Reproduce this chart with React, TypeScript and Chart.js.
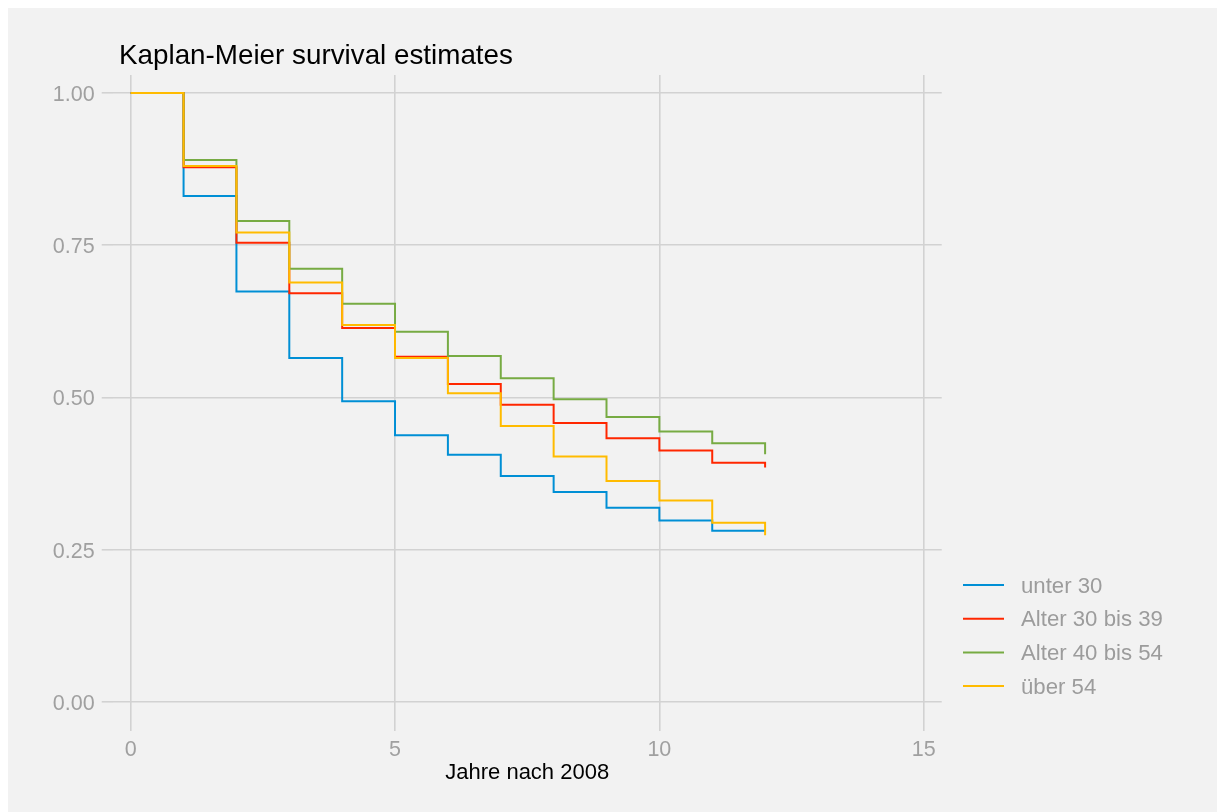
import React, { useEffect, useRef } from "react";
import { Chart, registerables } from "chart.js";

Chart.register(...registerables);

// ---- data ----
const years = [0, 1, 2, 3, 4, 5, 6, 7, 8, 9, 10, 11, 12];
const unter30 = [1.0, 0.831, 0.674, 0.565, 0.494, 0.438, 0.406, 0.371, 0.345, 0.319, 0.298, 0.281, 0.281];
const alter30bis39 = [1.0, 0.878, 0.754, 0.671, 0.614, 0.567, 0.522, 0.488, 0.458, 0.433, 0.413, 0.393, 0.385];
const alter40bis54 = [1.0, 0.89, 0.79, 0.7115, 0.654, 0.608, 0.568, 0.5315, 0.497, 0.468, 0.444, 0.425, 0.407];
const ueber54 = [1.0, 0.88, 0.771, 0.689, 0.619, 0.565, 0.507, 0.453, 0.403, 0.363, 0.331, 0.2945, 0.274];
const seriesLabels = ["unter 30", "Alter 30 bis 39", "Alter 40 bis 54", "über 54"];
const seriesValues = [unter30, alter30bis39, alter40bis54, ueber54];
const seriesColors = ["#008fd5", "#ff2700", "#77ab43", "#ffbb00"];
const xTicks = [0, 5, 10, 15];
const yTicks = [0, 0.25, 0.5, 0.75, 1.0];
const chartTitle = "Kaplan-Meier survival estimates";
const xTitle = "Jahre nach 2008";

// ---- style ----
const FONT = "'Liberation Sans', Arial, Helvetica, sans-serif";
const BG = "#f2f2f2";
const GRID = "#d2d2d2";
const TICK = "#a0a0a0";
const LEGEND_TEXT = "#9c9c9c";

const overlayPlugin = {
  id: "overlay",
  afterDraw(chart: any) {
    const ctx = chart.ctx;
    ctx.save();
    ctx.fillStyle = "#000";
    ctx.font = `27.8px ${FONT}`;
    ctx.textAlign = "left";
    ctx.textBaseline = "alphabetic";
    ctx.fillText(chartTitle, 111, 56);

    chart.data.datasets.forEach((ds: any, i: number) => {
      const y = 577 + i * 33.7;
      ctx.strokeStyle = ds.borderColor;
      ctx.lineWidth = 2;
      ctx.beginPath();
      ctx.moveTo(955, y);
      ctx.lineTo(996, y);
      ctx.stroke();
      ctx.fillStyle = LEGEND_TEXT;
      ctx.font = `22.2px ${FONT}`;
      ctx.textBaseline = "middle";
      ctx.fillText(ds.label, 1013, y + 1.5);
    });
    ctx.restore();
  },
};

export default function App() {
  const ref = useRef<HTMLCanvasElement | null>(null);

  useEffect(() => {
    document.documentElement.style.overflow = "hidden";
    document.body.style.overflow = "hidden";
    const canvas = ref.current;
    if (!canvas) return;
    const layerOrder = [3, 2, 1, 0];
    const chart = new Chart(canvas, {
      type: "line",
      data: {
        datasets: seriesLabels.map((label, i) => ({
          label,
          data: years.map((x, j) => ({ x, y: seriesValues[i][j] })),
          borderColor: seriesColors[i],
          backgroundColor: seriesColors[i],
          borderWidth: 2,
          pointRadius: 0,
          stepped: "before" as const,
          fill: false,
          order: layerOrder[i],
        })),
      },
      options: {
        animation: false,
        responsive: false,
        maintainAspectRatio: false,
        layout: { padding: { top: 67, right: 275.3, bottom: 0, left: 0 } },
        plugins: {
          legend: { display: false },
          title: { display: false },
          tooltip: { enabled: false },
        },
        scales: {
          x: {
            type: "linear",
            min: -0.3405,
            max: 15.3405,
            afterBuildTicks: (s: any) => {
              s.ticks = xTicks.map((v) => ({ value: v }));
            },
            afterFit: (s: any) => {
              s.height = 92;
            },
            grid: { color: GRID, lineWidth: 1.6, tickLength: 11, tickColor: GRID, drawTicks: true },
            border: { display: false },
            ticks: {
              color: TICK,
              font: { family: FONT, size: 21.5 },
              padding: 6,
              maxRotation: 0,
              autoSkip: false,
              callback: (v: any) => String(v),
            },
            title: {
              display: true,
              text: xTitle,
              color: "#000",
              font: { family: FONT, size: 22 },
              padding: { top: 0, bottom: 25.5 },
            },
          },
          y: {
            type: "linear",
            min: -0.02956,
            max: 1.02956,
            afterBuildTicks: (s: any) => {
              s.ticks = yTicks.map((v) => ({ value: v }));
            },
            afterFit: (s: any) => {
              s.width = 104.7;
            },
            grid: { color: GRID, lineWidth: 1.6, tickLength: 11, tickColor: GRID, drawTicks: true },
            border: { display: false },
            ticks: {
              color: TICK,
              font: { family: FONT, size: 21.5 },
              padding: 7,
              labelOffset: 2,
              autoSkip: false,
              callback: (v: any) => Number(v).toFixed(2),
            },
          },
        },
      },
      plugins: [overlayPlugin],
    });
    return () => chart.destroy();
  }, []);

  return (
    <div
      style={{
        position: "fixed",
        left: 8,
        top: 8,
        width: 1209,
        height: 804,
        background: BG,
      }}
    >
      <canvas ref={ref} width={1209} height={804} style={{ display: "block", width: 1209, height: 804 }} />
    </div>
  );
}
